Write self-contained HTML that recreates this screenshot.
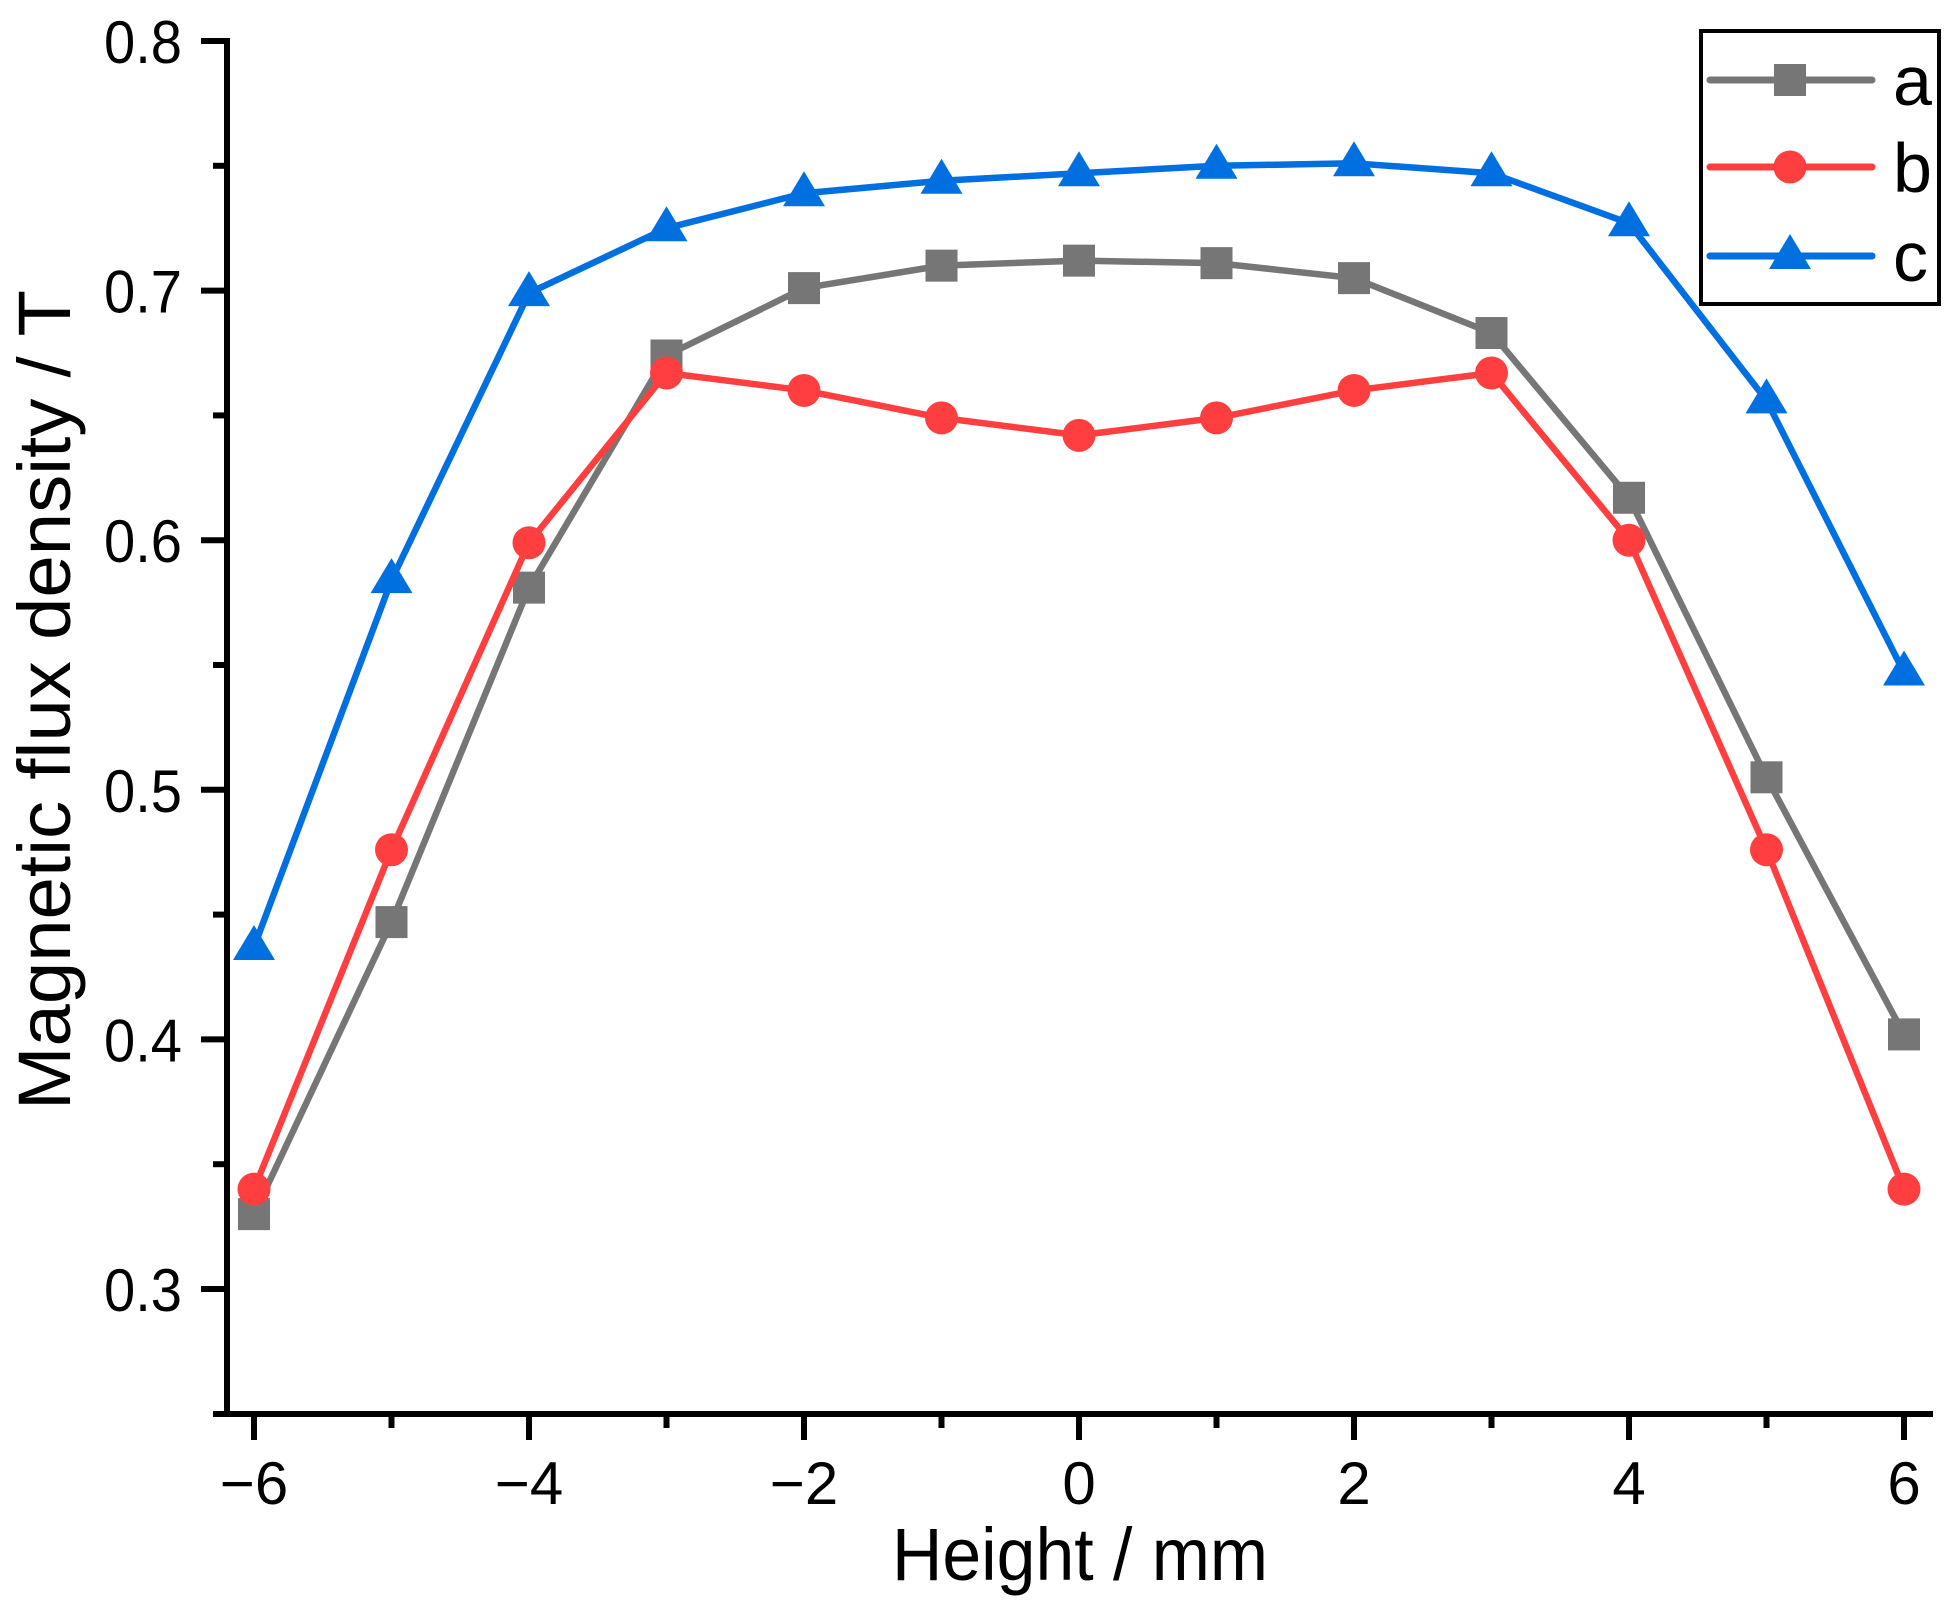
<!DOCTYPE html>
<html><head><meta charset="utf-8"><style>
html,body{margin:0;padding:0;background:#fff}
svg{display:block;font-family:"Liberation Sans",Arial,sans-serif}
</style></head><body>
<svg id="chart" width="1958" height="1612" viewBox="0 0 1958 1612">
<g id="axes"></g>
<g id="series"></g>
<g id="legend"></g>
<text x="1080" y="1580" font-size="74" text-anchor="middle" textLength="376" lengthAdjust="spacingAndGlyphs">Height / mm</text>
<text transform="translate(70,700) rotate(-90)" font-size="74" text-anchor="middle" textLength="820" lengthAdjust="spacingAndGlyphs">Magnetic flux density / T</text>
</svg>
<script>
const heights = [-6,-5,-4,-3,-2,-1,0,1,2,3,4,5,6];
const seriesA = [0.330,0.447,0.581,0.674,0.701,0.710,0.712,0.711,0.705,0.683,0.617,0.505,0.402];
const seriesB = [0.340,0.476,0.599,0.667,0.660,0.649,0.642,0.649,0.660,0.667,0.600,0.476,0.340];
const seriesC = [0.437,0.584,0.699,0.725,0.739,0.744,0.747,0.750,0.751,0.747,0.727,0.656,0.547];
const xTicks = [-6,-4,-2,0,2,4,6];
const xTickLabels = ["\u22126","\u22124","\u22122","0","2","4","6"];
const yTicks = [0.3,0.4,0.5,0.6,0.7,0.8];
const yTickLabels = ["0.3","0.4","0.5","0.6","0.7","0.8"];
const seriesNames = ["a","b","c"];

const NS="http://www.w3.org/2000/svg";
const X0=254, XPER=137.5, Y08=41, YPER=2496;
const xs = v => X0 + (v + 6) * XPER;
const ys = v => Y08 + (0.8 - v) * YPER;
function mk(tag, attrs, parent){const e=document.createElementNS(NS,tag);for(const k in attrs)e.setAttribute(k,attrs[k]);parent.appendChild(e);return e;}
const axes=document.getElementById('axes');
const AXY=1414, AXX=227, RIGHT=1933;
let e;
e=mk('line',{x1:AXX,y1:ys(0.8)-3,x2:AXX,y2:AXY+3,stroke:'#000','stroke-width':6},axes);


e=mk('line',{x1:AXX-14,y1:AXY,x2:RIGHT,y2:AXY,stroke:'#000','stroke-width':6},axes);


for(let v=-6; v<=6; v+=1){
  const major = xTicks.includes(v);
  e=mk('line',{x1:xs(v),y1:AXY,x2:xs(v),y2:AXY+(major?26:14),stroke:'#000','stroke-width':6},axes);
  
  
}
xTicks.forEach((v,i)=>{
  e=mk('text',{x:xs(v),y:1504,'font-size':60,'text-anchor':'middle'},axes);
  e.textContent=xTickLabels[i];
  
  
});
for(let k=0;k<=10;k++){
  const v = 0.3 + k*0.05;
  const major = k%2===0;
  e=mk('line',{x1:AXX-(major?26:14),y1:ys(v),x2:AXX,y2:ys(v),stroke:'#000','stroke-width':6},axes);
  
  
}
yTicks.forEach((v,i)=>{
  e=mk('text',{x:182,y:ys(v)+22,'font-size':60,'text-anchor':'end',textLength:78,lengthAdjust:'spacingAndGlyphs'},axes);
  e.textContent=yTickLabels[i];
  
  
});

const sg=document.getElementById('series');
function marker(type,x,y,color,parent){
  let m;
  if(type==='sq') m=mk('rect',{x:x-16,y:y-16,width:32,height:32,fill:color},parent);
  else if(type==='ci') m=mk('circle',{cx:x,cy:y,r:16.5,fill:color},parent);
  else m=mk('polygon',{points:`${x},${y-22} ${x-21},${y+13} ${x+21},${y+13}`,fill:color},parent);
  return m;
}
const defs=[[seriesA,'#767676','sq'],[seriesB,'#FF3F3F','ci'],[seriesC,'#0070E0','tr']];
defs.forEach(([vals,color,type],si)=>{
  const g=mk('g',{},sg);
  
  
  const pl=mk('polyline',{points:vals.map((v,i)=>xs(heights[i])+','+ys(v)).join(' '),fill:'none',stroke:color,'stroke-width':6.5,'stroke-linejoin':'round'},g);
  
  
  vals.forEach((v,i)=>{
    const m=marker(type,xs(heights[i]),ys(v),color,g);
    
    
  });
});

const lg=document.getElementById('legend');
e=mk('rect',{x:1701,y:31,width:238,height:273,fill:'#fff',stroke:'#000','stroke-width':4},lg);


const ly=[80,167,256];
defs.forEach(([vals,color,type],si)=>{
  const g=mk('g',{},lg);
  
  
  mk('line',{x1:1710,y1:ly[si],x2:1872,y2:ly[si],stroke:color,'stroke-width':7,'stroke-linecap':'round'},g);
  marker(type,1790,ly[si],color,g);
  const t=mk('text',{x:1893,y:ly[si]+25,'font-size':70},g);
  t.textContent=seriesNames[si];
});
</script>
</body></html>
